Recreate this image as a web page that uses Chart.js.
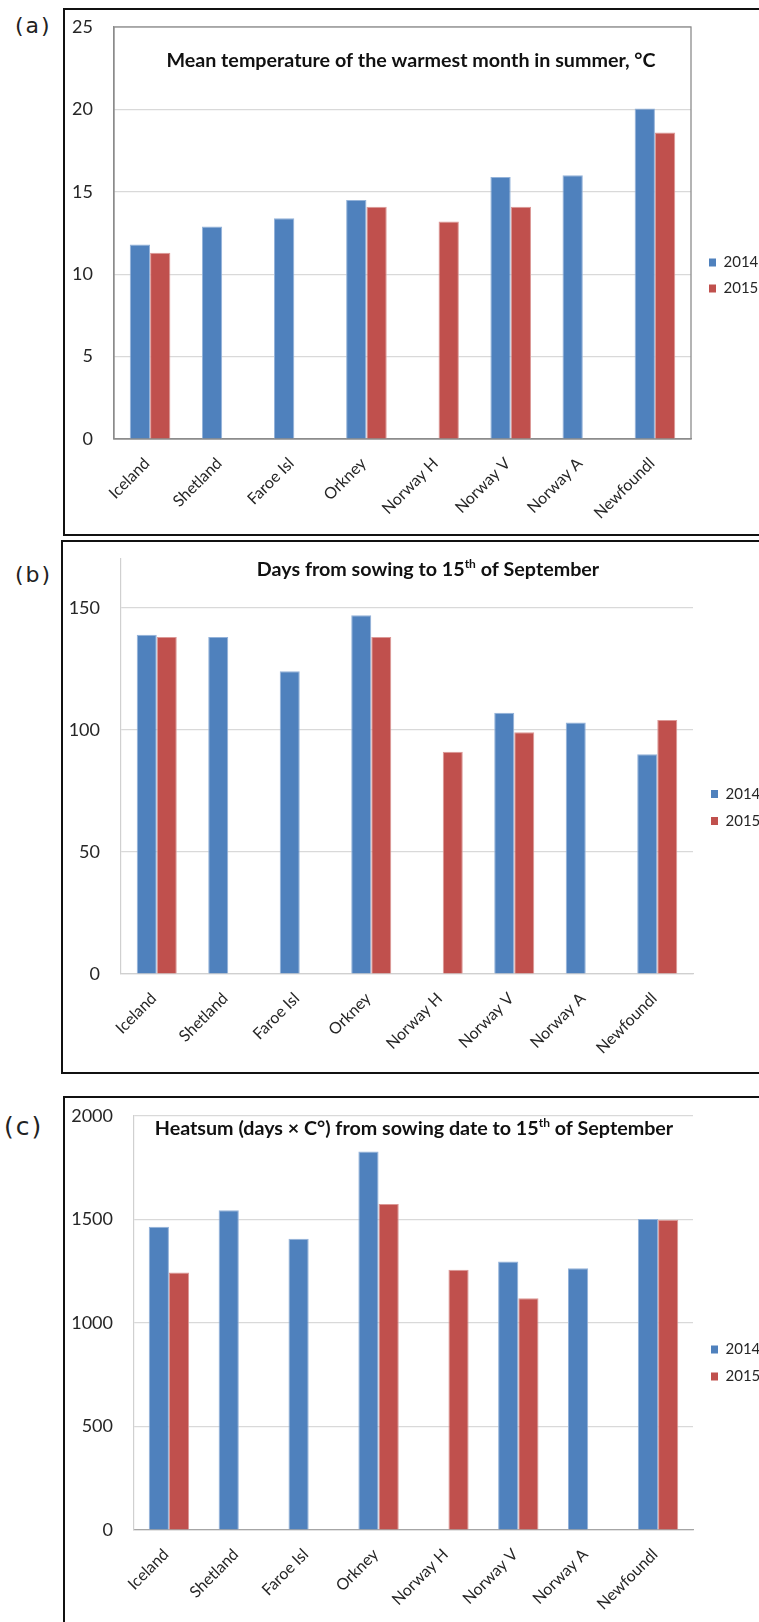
<!DOCTYPE html>
<html>
<head>
<meta charset="utf-8">
<script src="https://cdn.jsdelivr.net/npm/chart.js@4.4.1/dist/chart.umd.min.js"></script>
<style>
html, body { margin:0; padding:0; background:#fff; width:759px; height:1622px; overflow:hidden; }
.box { position:absolute; border:2px solid #111; box-sizing:border-box; }
.box canvas { position:absolute; left:0; top:0; }
.tag { position:absolute; font-family:'DejaVu Sans', sans-serif; color:#222; letter-spacing:2px; }
</style>
</head>
<body>
<div class="tag" style="left:15px;top:13px;font-size:22px">(a)</div>
<div class="box" style="left:63px;top:8px;width:760px;height:528px"><canvas id="chartA" width="700" height="524"></canvas></div>

<div class="tag" style="left:15px;top:562px;font-size:22px">(b)</div>
<div class="box" style="left:61px;top:540px;width:760px;height:534px"><canvas id="chartB" width="700" height="530"></canvas></div>

<div class="tag" style="left:4px;top:1112px;font-size:25px">(c)</div>
<div class="box" style="left:63px;top:1096px;width:760px;height:600px"><canvas id="chartC" width="700" height="524"></canvas></div>

<script>
// data
var sites = ['Iceland', 'Shetland', 'Faroe Isl', 'Orkney', 'Norway H', 'Norway V', 'Norway A', 'Newfoundl'];
var years = ['2014', '2015'];

var temp2014 = [11.8, 12.9, 13.4, 14.5, null, 15.9, 16.0, 20.05];
var temp2015 = [11.3, null, null, 14.1, 13.2, 14.1, null, 18.6];

var days2014 = [139, 138, 124, 147, null, 107, 103, 90];
var days2015 = [138, null, null, 138, 91, 99, null, 104];

var heat2014 = [1465, 1545, 1407, 1828, null, 1297, 1265, 1503];
var heat2015 = [1244, null, null, 1575, 1257, 1120, null, 1499];

var titleA = [{text: 'Mean temperature of the warmest month in summer, \u00b0C'}];
var titleB = [{text: 'Days from sowing to 15'}, {text: 'th', sup: true}, {text: ' of September'}];
var titleC = [{text: 'Heatsum (days \u00d7 C\u00b0) from sowing date to 15'}, {text: 'th', sup: true}, {text: ' of September'}];

var BLUE = '#4f81bd', RED = '#c0504d';

// title drawn inside the plot, with superscript parts
var panelTitle = {
    id: 'panelTitle',
    afterDraw: function (chart, args, opts) {
        if (!opts.parts) return;
        var ctx = chart.ctx;
        var big = 'bold ' + opts.size + 'px Lato';
        var small = 'bold ' + Math.round(opts.size * 0.62) + 'px Lato';
        ctx.save();
        var total = 0;
        opts.parts.forEach(function (p) {
            ctx.font = p.sup ? small : big;
            total += ctx.measureText(p.text).width;
        });
        var x = opts.x - total / 2;
        ctx.fillStyle = '#111';
        ctx.textAlign = 'left';
        ctx.textBaseline = 'alphabetic';
        opts.parts.forEach(function (p) {
            ctx.font = p.sup ? small : big;
            ctx.fillText(p.text, x, p.sup ? opts.y - opts.size * 0.4 : opts.y);
            x += ctx.measureText(p.text).width;
        });
        ctx.restore();
    }
};

// grey frame round the plot area (panel a only)
var plotFrame = {
    id: 'plotFrame',
    beforeDatasetsDraw: function (chart, args, opts) {
        if (!opts.color) return;
        var a = chart.chartArea, ctx = chart.ctx;
        ctx.save();
        ctx.strokeStyle = opts.color;
        ctx.lineWidth = opts.width || 1;
        ctx.strokeRect(a.left, a.top, a.right - a.left, a.bottom - a.top);
        ctx.restore();
    }
};

// push the legend a bit away from the plot and let its text run off the edge
var legendNudge = {
    id: 'legendNudge',
    afterLayout: function (chart, args, opts) {
        var l = chart.legend;
        if (!l) return;
        l.left += opts.dx || 0;
        l.width = 150;
        l.right = l.left + l.width;
    }
};

function makeChart(id, s1, s2, cfg) {
    return new Chart(document.getElementById(id), {
        type: 'bar',
        data: {
            labels: sites,
            datasets: [
                { label: years[0], data: s1, backgroundColor: BLUE, borderColor: '#93b2d9', borderWidth: 1 },
                { label: years[1], data: s2, backgroundColor: RED, borderColor: '#dc9896', borderWidth: 1 }
            ]
        },
        options: {
            responsive: false,
            animation: false,
            categoryPercentage: cfg.catPct,
            barPercentage: 1,
            layout: { padding: cfg.padding },
            scales: {
                x: {
                    grid: { display: false, drawTicks: false },
                    border: { color: cfg.xBorder, width: 1.3 },
                    ticks: {
                        autoSkip: false, minRotation: 45, maxRotation: 45, padding: 15, labelOffset: -3,
                        color: '#262626', font: { family: 'Lato', size: 16 }
                    },
                    afterFit: function (s) {
                        s.height = cfg.xHeight;
                        s.paddingLeft = s.paddingRight = 0;
                    }
                },
                y: {
                    min: 0, max: cfg.yMax,
                    grid: { color: '#d9d9d9', lineWidth: 1.2, drawTicks: false },
                    border: { color: cfg.yBorder, width: 1.2 },
                    ticks: {
                        stepSize: cfg.step, includeBounds: false, padding: 21,
                        color: '#262626', font: { family: 'Lato', size: 18 },
                        callback: function (v) { return String(v); }
                    },
                    afterFit: function (s) {
                        s.width = cfg.yWidth;
                        s.paddingTop = s.paddingBottom = 0;
                    }
                }
            },
            plugins: {
                tooltip: { enabled: false },
                legend: {
                    position: 'right',
                    maxWidth: 50,
                    labels: {
                        boxWidth: 7, boxHeight: 8, padding: cfg.legPad,
                        color: '#262626', font: { family: 'Lato', size: 15 },
                        generateLabels: function (chart) {
                            return Chart.defaults.plugins.legend.labels.generateLabels(chart).map(function (l) {
                                l.lineWidth = 0;
                                return l;
                            });
                        }
                    }
                },
                legendNudge: { dx: cfg.legDx },
                plotFrame: { color: cfg.frame, width: 1.3 },
                panelTitle: { parts: cfg.title, x: cfg.titleX, y: cfg.titleY, size: 19.7 }
            }
        },
        plugins: [panelTitle, plotFrame, legendNudge]
    });
}

makeChart('chartA', temp2014, temp2015, {
    yMax: 25, step: 5, catPct: 0.563,
    padding: { top: 17, bottom: 10, left: 0, right: 24 },
    xHeight: 85, yWidth: 49, legPad: 11, legDx: 7,
    xBorder: '#8c8c8c', yBorder: '#8c8c8c', frame: '#8c8c8c',
    title: titleA, titleX: 346, titleY: 57
});

makeChart('chartB', days2014, days2015, {
    yMax: 170, step: 50, catPct: 0.56,
    padding: { top: 17, bottom: 16, left: 0, right: 20 },
    xHeight: 82, yWidth: 58, legPad: 12, legDx: 6,
    xBorder: '#d0d0d0', yBorder: '#d0d0d0', frame: null,
    title: titleB, titleX: 365, titleY: 34
});

makeChart('chartC', heat2014, heat2015, {
    yMax: 2000, step: 500, catPct: 0.578,
    padding: { top: 18, bottom: 12, left: 0, right: 22 },
    xHeight: 80, yWidth: 69, legPad: 12, legDx: 6,
    xBorder: '#a6a6a6', yBorder: '#d0d0d0', frame: null,
    title: titleC, titleX: 349, titleY: 37
});
</script>
</body>
</html>
